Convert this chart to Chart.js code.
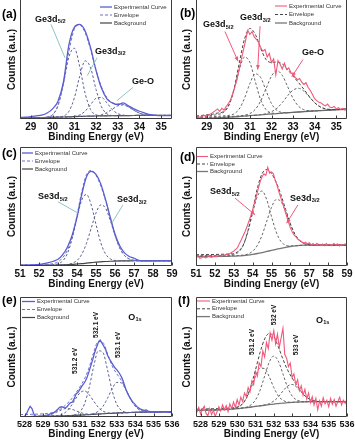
<!DOCTYPE html>
<html>
<head>
<meta charset="utf-8">
<script src="https://cdn.jsdelivr.net/npm/chart.js@4.4.0/dist/chart.umd.min.js"></script>
<style>
  body { margin: 0; background: #fff; width: 355px; height: 446px; overflow: hidden; position: relative; }
  canvas { position: absolute; }
</style>
</head>
<body>
<canvas id="pa" width="182" height="146" style="left:0;top:0"></canvas>
<canvas id="pb" width="179" height="146" style="left:176px;top:0"></canvas>
<canvas id="pc" width="182" height="149" style="left:0;top:146px"></canvas>
<canvas id="pd" width="179" height="149" style="left:176px;top:146px"></canvas>
<canvas id="pe" width="182" height="150" style="left:0;top:296px"></canvas>
<canvas id="pf" width="179" height="150" style="left:176px;top:296px"></canvas>
<script>
// tick labels
const geTicks = [29, 30, 31, 32, 33, 34, 35];
const seTicks = [51, 52, 53, 54, 55, 56, 57, 58, 59];
const oTicks = [528, 529, 530, 531, 532, 533, 534, 535, 536];

// ---- Ge 3d, panels (a) and (b) : fitted curves on a 0.25 eV grid
const geX = [28.5, 28.75, 29, 29.25, 29.5, 29.75, 30, 30.25, 30.5, 30.75, 31, 31.25, 31.5, 31.75, 32, 32.25, 32.5, 32.75, 33, 33.25, 33.5, 33.75, 34, 34.25, 34.5, 34.75, 35, 35.25, 35.5];

const expA = [1.4, 1.5, 2.0, 2.6, 3.2, 5.0, 8.5, 15, 31, 62, 77, 79.5, 74, 60, 41, 26, 17, 13.5, 12, 13.5, 11, 8.5, 6.5, 5, 3.6, 3.0, 2.8, 2.8, 2.8];
const envA = [0.8, 0.9, 1.0, 1.1, 1.2, 1.6, 3.5, 11.4, 30.3, 56.5, 75.4, 79.1, 72.4, 58.3, 41, 27.1, 18.0, 13.7, 12.7, 12.3, 10.1, 7.3, 4.9, 3.6, 3.2, 3, 3, 3, 3];
const bgA = [0.8, 0.9, 1.0, 1.1, 1.2, 1.3, 1.4, 1.55, 1.7, 1.85, 2.0, 2.15, 2.3, 2.4, 2.5, 2.6, 2.7, 2.75, 2.8, 2.85, 2.9, 2.95, 3, 3, 3, 3, 3, 3, 3];
const ge52A = [0.8, 0.9, 1.0, 1.1, 1.2, 1.6, 3.5, 11.3, 29.4, 52.0, 59.5, 44.0, 21.5, 8.0, 3.5, 2.8, 2.7, 2.75, 2.8, 2.85, 2.9, 2.95, 3, 3, 3, 3, 3, 3, 3];
const ge32A = [0.8, 0.9, 1.0, 1.1, 1.2, 1.3, 1.4, 1.65, 2.55, 6.35, 17.6, 35.9, 48.9, 43.0, 24.9, 10.4, 4.4, 2.95, 2.8, 2.85, 2.9, 2.95, 3, 3, 3, 3, 3, 3, 3];
const gexA = [0.8, 0.9, 1.0, 1.1, 1.2, 1.3, 1.4, 1.55, 1.7, 1.85, 2.26, 3.45, 6.6, 12.1, 17.4, 18.1, 13.6, 7.95, 4.5, 3.25, 2.9, 2.95, 3, 3, 3, 3, 3, 3, 3];
const geoA = [0.8, 0.9, 1.0, 1.1, 1.2, 1.3, 1.4, 1.55, 1.7, 1.85, 2.0, 2.15, 2.3, 2.4, 2.5, 3.6, 5.4, 8.25, 11.0, 11.85, 10.1, 7.25, 4.9, 3.6, 3.15, 3, 3, 3, 3];

const geFineX = [28.5, 28.6, 28.7, 28.8, 28.9, 29.0, 29.1, 29.2, 29.3, 29.4, 29.5, 29.6, 29.7, 29.8, 29.9, 30.0, 30.1, 30.2, 30.3, 30.4, 30.5, 30.6, 30.7, 30.8, 30.9, 31.0, 31.1, 31.2, 31.3, 31.4, 31.5, 31.6, 31.7, 31.8, 31.9, 32.0, 32.1, 32.2, 32.3, 32.4, 32.5, 32.6, 32.7, 32.8, 32.9, 33.0, 33.1, 33.2, 33.3, 33.4, 33.5, 33.6, 33.7, 33.8, 33.9, 34.0, 34.1, 34.2, 34.3, 34.4, 34.5, 34.6, 34.7, 34.8, 34.9, 35.0, 35.1, 35.2, 35.3, 35.4, 35.5];
const expB = [1.5, 2.0, 1.2, 2.5, 3.0,
  2.2, 3.5, 4.5, 5.8, 7.0, 8.5, 6.5, 9.0, 7.5, 10.5,
  13.0, 16.0, 21.0, 27.0, 33.0, 42.0, 50.0, 58.0, 66.0, 74.5,
  71.0, 73.5, 69.0, 67.0, 64.5, 60.0, 57.0, 58.5, 52.0, 55.0,
  47.5, 50.5, 37.0, 49.0, 46.0, 42.0, 47.0, 41.5, 43.0, 39.0,
  37.5, 35.0, 33.0, 34.0, 31.0, 29.0, 30.5, 26.5, 24.0, 20.5,
  17.0, 15.5, 14.0, 13.5, 12.0, 11.0, 12.5, 10.0, 9.5, 10.5,
  8.5, 9.5, 8.0, 9.0, 7.5, 8.5];
const envB = [2.5, 3.0, 3.5, 4.0, 5.0, 6.0, 11, 24.5, 46.5, 67.3, 76.1, 71.1, 59.2, 49.9, 47.5, 47.9, 46.2, 41.5, 36, 30.7, 25, 19, 13.7, 10.3, 8.5, 8.0, 8.0, 8.2, 8.4];
const bgB = [0.3, 0.45, 0.6, 0.8, 1.0, 1.25, 1.5, 1.8, 2.1, 2.45, 2.8, 3.15, 3.5, 3.85, 4.2, 4.55, 4.9, 5.25, 5.6, 5.9, 6.2, 6.5, 6.8, 7.05, 7.3, 7.55, 7.8, 8.0, 8.2];
const ge52B = [1.8, 2.1, 2.5, 3.0, 3.8, 5.2, 10.5, 23.4, 41.0, 52.1, 47.4, 31.4, 16.0, 7.8, 5.1, 4.65, 4.9, 5.25, 5.6, 5.9, 6.2, 6.5, 6.8, 7.05, 7.3, 7.55, 7.8, 8.0, 8.2];
const ge32B = [1.2, 1.4, 1.6, 1.9, 2.2, 2.6, 3.0, 4.2, 8.3, 17.5, 29.9, 38.0, 34.8, 23.6, 12.9, 7.25, 5.5, 5.35, 5.6, 5.9, 6.2, 6.5, 6.8, 7.05, 7.3, 7.55, 7.8, 8.0, 8.2];
const gexB = [0.8, 0.95, 1.1, 1.3, 1.5, 1.75, 2.0, 2.3, 2.6, 3.2, 4.6, 8.1, 15.2, 25.7, 36.0, 40.6, 36.7, 27.1, 17.3, 10.8, 7.8, 6.9, 6.8, 7.05, 7.3, 7.55, 7.8, 8.0, 8.2];
const geoB = [0.3, 0.45, 0.6, 0.8, 1.0, 1.25, 1.5, 1.8, 2.1, 2.45, 2.8, 3.15, 3.7, 4.45, 6.1, 9.05, 13.8, 19.6, 24.3, 25.8, 23.4, 18.6, 13.7, 10.3, 8.5, 7.95, 7.8, 8.0, 8.2];

// ---- Se 3d, panels (c) and (d)
const seX = [51, 51.25, 51.5, 51.75, 52, 52.25, 52.5, 52.75, 53, 53.25, 53.5, 53.75, 54, 54.25, 54.5, 54.75, 55, 55.25, 55.5, 55.75, 56, 56.25, 56.5, 56.75, 57, 57.25, 57.5, 57.75, 58, 58.25, 58.5, 58.75, 59];

const expC = [0.6, 0.7, 0.8, 1.0, 1.4, 2.0, 2.8, 4.0, 5.6, 9.5, 16, 26, 41, 60, 75, 79.5, 77, 69, 56, 41, 27, 17, 11, 8, 6.5, 4.8, 4.3, 4.3, 4.3, 4.3, 4.3, 4.3, 4.3];
const envC = [0.9, 0.9, 1.0, 1.0, 1.1, 1.2, 1.4, 2.0, 3.5, 7.0, 13.5, 25.0, 42.5, 62.5, 76.8, 80.3, 76.3, 67.4, 55.1, 40.3, 26.1, 15.1, 8.8, 5.9, 4.8, 4.4, 4.4, 4.4, 4.4, 4.4, 4.4, 4.4, 4.4];
const bgC = [0.5, 0.5, 0.5, 0.5, 0.6, 0.6, 0.7, 0.8, 0.9, 1.0, 1.2, 1.4, 1.7, 2.0, 2.4, 2.8, 3.2, 3.5, 3.8, 4.0, 4.15, 4.25, 4.3, 4.35, 4.4, 4.4, 4.4, 4.4, 4.4, 4.4, 4.4, 4.4, 4.4];
const se52C = [0.5, 0.5, 0.5, 0.5, 0.6, 0.6, 0.7, 1.0, 1.8, 4.3, 10.7, 23.2, 40.4, 55.5, 60.1, 51.2, 34.9, 19.6, 10.2, 6.0, 4.65, 4.25, 4.3, 4.35, 4.4, 4.4, 4.4, 4.4, 4.4, 4.4, 4.4, 4.4, 4.4];
const se32C = [0.5, 0.5, 0.5, 0.5, 0.6, 0.6, 0.7, 0.8, 0.9, 1.0, 1.4, 2.3, 4.6, 9.8, 19.1, 31.9, 44.6, 51.3, 48.7, 38.3, 25.6, 15.1, 8.8, 5.85, 4.8, 4.4, 4.4, 4.4, 4.4, 4.4, 4.4, 4.4, 4.4];

const seFineX = [51.0, 51.1, 51.2, 51.3, 51.4, 51.5, 51.6, 51.7, 51.8, 51.9, 52.0, 52.1, 52.2, 52.3, 52.4, 52.5, 52.6, 52.7, 52.8, 52.9, 53.0, 53.1, 53.2, 53.3, 53.4, 53.5, 53.6, 53.7, 53.8, 53.9, 54.0, 54.1, 54.2, 54.3, 54.4, 54.5, 54.6, 54.7, 54.8, 54.9, 55.0, 55.1, 55.2, 55.3, 55.4, 55.5, 55.6, 55.7, 55.8, 55.9, 56.0, 56.1, 56.2, 56.3, 56.4, 56.5, 56.6, 56.7, 56.8, 56.9, 57.0, 57.1, 57.2, 57.3, 57.4, 57.5, 57.6, 57.7, 57.8, 57.9, 58.0, 58.1, 58.2, 58.3, 58.4, 58.5, 58.6, 58.7, 58.8, 58.9, 59.0];
const expD = [7.5, 8.5, 6.5, 7.0, 8.0, 6.8, 7.5, 8.8, 7.2, 8.0,
  8.5, 7.8, 9.0, 8.2, 9.2, 8.8, 9.8, 10.0, 10.5, 11.5,
  12.5, 14.0, 15.5, 19.0, 22.0, 25.5, 29.0, 33.0, 37.5, 42.0,
  47.0, 53.0, 59.0, 65.0, 71.0, 75.0, 77.5, 76.0, 83.0, 78.0,
  79.0, 77.5, 72.0, 67.5, 62.0, 57.0, 52.5, 47.0, 42.0, 37.0,
  32.0, 28.5, 26.0, 24.5, 22.5, 21.5, 20.5, 19.0, 20.0, 18.5,
  19.5, 17.8, 18.8, 17.5, 19.0, 18.0, 17.2, 18.5, 17.0, 18.8,
  17.5, 18.2, 17.0, 19.0, 17.8, 18.5, 16.8, 18.0, 17.5, 18.6,
  17.8];
const envD = [9.5, 9.5, 9.6, 9.6, 9.7, 9.8, 9.9, 10.0, 10.5, 12.5, 17.5, 29.5, 47.1, 65.3, 77.6, 81.1, 77.7, 70.3, 59.9, 47.5, 35.5, 26.4, 21.2, 18.8, 17.9, 17.6, 17.6, 17.6, 17.6, 17.6, 17.6, 17.6, 17.6];
const bgD = [8.0, 8.0, 8.0, 8.0, 8.0, 8.05, 8.1, 8.2, 8.3, 8.5, 8.8, 9.2, 9.8, 10.5, 11.3, 12.2, 13.1, 14.0, 14.9, 15.7, 16.4, 16.9, 17.3, 17.5, 17.6, 17.6, 17.6, 17.6, 17.6, 17.6, 17.6, 17.6, 17.6];
const se52D = [8.6, 8.6, 8.7, 8.7, 8.8, 8.9, 9.0, 9.2, 9.6, 11.6, 17.3, 28.7, 44.5, 58.5, 63.0, 55.6, 41.5, 28.5, 20.6, 17.5, 16.8, 16.9, 17.3, 17.5, 17.6, 17.6, 17.6, 17.6, 17.6, 17.6, 17.6, 17.6, 17.6];
const se32D = [8.3, 8.3, 8.3, 8.4, 8.4, 8.5, 8.5, 8.6, 8.7, 8.8, 9.2, 10.0, 12.4, 17.3, 25.9, 37.7, 49.3, 55.8, 54.2, 45.7, 35.1, 26.4, 21.2, 18.8, 17.9, 17.6, 17.6, 17.6, 17.6, 17.6, 17.6, 17.6, 17.6];

// ---- O 1s, panels (e) and (f)
const oX = [527.75, 528, 528.25, 528.5, 528.75, 529, 529.25, 529.5, 529.75, 530, 530.25, 530.5, 530.75, 531, 531.25, 531.5, 531.75, 532, 532.25, 532.5, 532.75, 533, 533.25, 533.5, 533.75, 534, 534.25, 534.5, 534.75, 535, 535.25, 535.5, 535.75, 536];
const oFineX = [527.8, 527.9, 528.0, 528.1, 528.2, 528.3, 528.4, 528.5, 528.6, 528.7, 528.8, 528.9, 529.0, 529.1, 529.2, 529.3, 529.4, 529.5, 529.6, 529.7, 529.8, 529.9, 530.0, 530.1, 530.2, 530.3, 530.4, 530.5, 530.6, 530.7, 530.8, 530.9, 531.0, 531.1, 531.2, 531.3, 531.4, 531.5, 531.6, 531.7, 531.8, 531.9, 532.0, 532.1, 532.2, 532.3, 532.4, 532.5, 532.6, 532.7, 532.8, 532.9, 533.0, 533.1, 533.2, 533.3, 533.4, 533.5, 533.6, 533.7, 533.8, 533.9, 534.0, 534.1, 534.2, 534.3, 534.4, 534.5, 534.6, 534.7, 534.8, 534.9, 535.0, 535.1, 535.2, 535.3, 535.4, 535.5, 535.6, 535.7, 535.8, 535.9, 536.0];

const expE = [0.0, 0.3,
  0.5, 2.5, 6.0, 8.8, 7.0, 2.5, 0.5, 0.3, 0.5, 0.8,
  1.0, 1.2, 1.5, 2.0, 2.6, 3.0, 3.8, 5.0, 6.5, 8.0,
  8.5, 8.0, 7.5, 8.5, 10.5, 12.0, 12.5, 15.5, 19.5, 20.5,
  23.0, 25.5, 27.5, 30.0, 33.5, 38.0, 43.0, 48.0, 53.5, 58.0,
  62.0, 64.0, 61.5, 59.0, 56.0, 51.5, 48.5, 46.0, 43.5, 41.0,
  39.5, 37.5, 35.0, 32.0, 27.5, 23.0, 19.5, 16.5, 14.0, 12.0,
  10.5, 8.5, 7.5, 6.5, 6.0, 5.5, 5.8, 5.0, 4.5, 4.2,
  4.0, 3.9, 4.2, 4.0, 4.3, 4.5, 4.2, 4.0, 3.9, 3.8,
  3.8];
const envE = [2.0, 2.1, 2.2, 2.3, 2.4, 2.6, 3.0, 3.6, 5.0, 7.0, 10.4, 14.2, 19.3, 25.1, 31.8, 41.2, 53.8, 63.1, 62.1, 52.7, 42.5, 36.1, 30.5, 22.9, 15.0, 9.0, 5.8, 4.6, 4.2, 4.25, 4.3, 4.35, 4.4, 4.4];
const bgE = [0.3, 0.35, 0.4, 0.45, 0.5, 0.55, 0.6, 0.7, 0.8, 0.9, 1.05, 1.2, 1.4, 1.6, 1.8, 2.0, 2.25, 2.5, 2.7, 2.9, 3.1, 3.3, 3.45, 3.6, 3.75, 3.9, 4.0, 4.1, 4.2, 4.25, 4.3, 4.35, 4.4, 4.4];
const o530E = [0.3, 0.35, 0.4, 0.45, 0.5, 0.75, 1.3, 2.4, 4.1, 5.9, 7.05, 6.7, 5.4, 3.9, 2.8, 2.3, 2.25, 2.5, 2.7, 2.9, 3.1, 3.3, 3.45, 3.6, 3.75, 3.9, 4.0, 4.1, 4.2, 4.25, 4.3, 4.35, 4.4, 4.4];
const o531E = [0.3, 0.35, 0.4, 0.45, 0.5, 0.55, 0.6, 0.7, 1.1, 2.0, 4.35, 8.7, 14.7, 20.1, 21.7, 18.7, 13.2, 8.1, 4.9, 3.6, 3.1, 3.3, 3.45, 3.6, 3.75, 3.9, 4.0, 4.1, 4.2, 4.25, 4.3, 4.35, 4.4, 4.4];
const o532E = [0.3, 0.35, 0.4, 0.45, 0.5, 0.55, 0.6, 0.7, 0.8, 0.9, 1.05, 1.2, 2.0, 4.3, 10.9, 24.2, 42.2, 55.2, 53.8, 39.3, 22.1, 10.6, 5.55, 4.0, 3.75, 3.9, 4.0, 4.1, 4.2, 4.25, 4.3, 4.35, 4.4, 4.4];
const o533E = [0.3, 0.35, 0.4, 0.45, 0.5, 0.55, 0.6, 0.7, 0.8, 0.9, 1.05, 1.2, 1.4, 1.6, 1.8, 2.0, 2.95, 4.8, 8.8, 15.6, 23.5, 28.8, 28.4, 22.5, 15.0, 9.0, 5.8, 4.6, 4.2, 4.25, 4.3, 4.35, 4.4, 4.4];

const expF = [4.0, 8.0,
  2.5, 6.5, 9.0, 3.0, 1.0, 7.0, 2.0, 5.5, 0.5, 4.5,
  8.5, 5.0, 10.0, 6.0, 9.5, 4.5, 11.0, 7.0, 12.5, 8.0,
  14.5, 10.0, 16.5, 13.0, 20.0, 17.0, 24.5, 21.0, 30.0, 27.0,
  38.0, 34.0, 45.0, 42.0, 55.0, 50.0, 62.0, 57.0, 70.0, 64.0,
  72.0, 61.0, 69.0, 58.0, 66.0, 74.0, 52.0, 49.0, 42.0, 45.0,
  33.0, 36.0, 27.0, 31.0, 22.0, 26.0, 18.0, 23.0, 15.0, 20.0,
  12.0, 17.0, 10.0, 15.5, 6.0, 13.5, 9.0, 16.0, 11.0, 14.0,
  8.5, 15.5, 10.5, 14.5, 9.0, 13.0, 16.5, 10.0, 14.0, 11.5,
  15.0];
const envF = [6.5, 6.6, 6.7, 6.8, 6.9, 7.0, 7.2, 7.4, 7.7, 8.3, 10.4, 15.8, 25.7, 39.3, 53.7, 65.0, 69.6, 67.1, 58.4, 48.2, 39.3, 32.5, 26.7, 21.2, 16.9, 14.5, 13.3, 12.8, 12.8, 12.8, 12.8, 12.8, 12.8, 12.8];
const bgF = [5.5, 5.6, 5.7, 5.8, 5.9, 6.0, 6.2, 6.4, 6.7, 7.0, 7.4, 7.8, 8.3, 8.8, 9.3, 9.8, 10.3, 10.8, 11.2, 11.6, 11.9, 12.2, 12.4, 12.6, 12.7, 12.8, 12.8, 12.8, 12.8, 12.8, 12.8, 12.8, 12.8, 12.8];
const o531F = [5.5, 5.6, 5.7, 5.8, 5.9, 6.0, 6.2, 6.4, 6.9, 7.8, 10.2, 15.4, 23.9, 33.9, 40.7, 40.4, 33.5, 24.6, 17.5, 13.9, 12.5, 12.2, 12.4, 12.6, 12.7, 12.8, 12.8, 12.8, 12.8, 12.8, 12.8, 12.8, 12.8, 12.8];
const o532F = [5.5, 5.6, 5.7, 5.8, 5.9, 6.0, 6.2, 6.4, 6.7, 7.0, 7.4, 8.2, 10.1, 14.2, 22.3, 34.1, 45.6, 50.8, 46.5, 35.9, 24.9, 17.6, 14.2, 13.0, 12.7, 12.8, 12.8, 12.8, 12.8, 12.8, 12.8, 12.8, 12.8, 12.8];
const o533F = [5.5, 5.6, 5.7, 5.8, 5.9, 6.0, 6.2, 6.4, 6.7, 7.0, 7.4, 7.8, 8.3, 8.8, 9.3, 10.0, 11.1, 13.3, 16.8, 21.6, 25.7, 27.1, 24.9, 20.8, 16.9, 14.5, 13.3, 12.8, 12.8, 12.8, 12.8, 12.8, 12.8, 12.8];

const FONT = '"Liberation Sans", Arial, sans-serif';

// blue panels (a, c, e) and red panels (b, d, f)
const blueSet = {
  exp: { color: '#5a5dd2', width: 1.3, dash: [] },
  env: { color: '#6d71c8', width: 1, dash: [3, 2] },
  peak: { color: '#5a6090', width: 1, dash: [2.5, 2] },
  bg: { color: '#444', width: 1.2, dash: [] }
};
const redSet = {
  exp: { color: '#f2587a', width: 1.1, dash: [] },
  env: { color: '#444', width: 1, dash: [3, 2] },
  peak: { color: '#666', width: 1, dash: [2.5, 2] },
  bg: { color: '#777', width: 1.3, dash: [] }
};

function series(xs, ys, st, smooth) {
  return {
    data: xs.map((x, i) => ({ x: x, y: ys[i] })),
    borderColor: st.color,
    borderWidth: st.width,
    borderDash: st.dash,
    pointRadius: 0,
    fill: false,
    tension: smooth ? 0.4 : 0,
    cubicInterpolationMode: smooth ? 'monotone' : 'default'
  };
}

function subText(ctx, x, y, main, sub, size) {
  ctx.font = 'bold ' + size + 'px ' + FONT;
  ctx.textAlign = 'left';
  ctx.textBaseline = 'middle';
  ctx.fillText(main, x, y);
  if (sub) {
    const w = ctx.measureText(main).width;
    ctx.font = 'bold ' + (size * 0.62).toFixed(1) + 'px ' + FONT;
    ctx.fillText(sub, x + w + 0.3, y + size * 0.3);
  }
}

// frame, inner ticks, legend, panel letter and peak labels
const decorPlugin = {
  id: 'decor',
  afterDraw(chart, args, o) {
    const ctx = chart.ctx, a = chart.chartArea;
    const xs = chart.scales.x, ys = chart.scales.y;
    ctx.save();
    ctx.strokeStyle = '#3c3c3c';
    ctx.lineWidth = 1;
    ctx.setLineDash([]);
    ctx.beginPath();
    const l = Math.round(a.left) + 0.5, r = Math.round(a.right) - 0.5;
    const t = Math.round(a.top) + 0.5, b = Math.round(a.bottom) - 0.5;
    ctx.moveTo(l, t - (o.openTop ? 1 : 0)); ctx.lineTo(l, b); ctx.lineTo(r, b); ctx.lineTo(r, t - (o.openTop ? 1 : 0));
    if (!o.openTop) ctx.lineTo(l, t);
    ctx.stroke();
    xs.ticks.forEach(tk => {
      const px = Math.round(xs.getPixelForValue(tk.value)) + 0.5;
      ctx.beginPath(); ctx.moveTo(px, b); ctx.lineTo(px, b - 3); ctx.stroke();
    });

    // legend
    const lg = o.legend;
    lg.items.forEach((it, i) => {
      const y = a.top + lg.y + i * lg.dy;
      const x0 = a.left + lg.x;
      ctx.strokeStyle = it.st.color;
      ctx.lineWidth = it.st.width;
      ctx.setLineDash(it.st.dash);
      ctx.beginPath(); ctx.moveTo(x0, y); ctx.lineTo(x0 + lg.len, y); ctx.stroke();
      ctx.setLineDash([]);
      ctx.fillStyle = '#333';
      ctx.font = '6px ' + FONT;
      ctx.textAlign = 'left';
      ctx.textBaseline = 'middle';
      ctx.fillText(it.text, x0 + lg.len + 2, y);
    });

    // panel letter
    ctx.fillStyle = '#000';
    ctx.font = 'bold 12px ' + FONT;
    ctx.textAlign = 'left';
    ctx.textBaseline = 'middle';
    ctx.fillText(o.letter, o.lx, o.ly);

    // pointer lines
    (o.arrows || []).forEach(p => {
      const x1 = xs.getPixelForValue(p[0]), y1 = ys.getPixelForValue(p[1]);
      const x2 = xs.getPixelForValue(p[2]), y2 = ys.getPixelForValue(p[3]);
      ctx.strokeStyle = o.arrowColor;
      ctx.fillStyle = o.arrowColor;
      ctx.lineWidth = 1;
      ctx.beginPath(); ctx.moveTo(x1, y1); ctx.lineTo(x2, y2); ctx.stroke();
      if (o.heads) {
        const ang = Math.atan2(y2 - y1, x2 - x1);
        ctx.beginPath();
        ctx.moveTo(x2, y2);
        ctx.lineTo(x2 - 4.5 * Math.cos(ang) + 2 * Math.sin(ang), y2 - 4.5 * Math.sin(ang) - 2 * Math.cos(ang));
        ctx.lineTo(x2 - 4.5 * Math.cos(ang) - 2 * Math.sin(ang), y2 - 4.5 * Math.sin(ang) + 2 * Math.cos(ang));
        ctx.closePath();
        ctx.fill();
      }
    });

    // peak labels
    ctx.fillStyle = '#111';
    (o.notes || []).forEach(n => {
      const x = xs.getPixelForValue(n.x), y = ys.getPixelForValue(n.y);
      if (n.rot) {
        ctx.save();
        ctx.translate(x, y);
        ctx.rotate(-Math.PI / 2);
        ctx.font = 'bold 6.5px ' + FONT;
        ctx.textAlign = 'center';
        ctx.textBaseline = 'middle';
        ctx.fillText(n.text, 0, 0);
        ctx.restore();
      } else {
        subText(ctx, x, y, n.text, n.sub, n.size || 9);
      }
    });
    ctx.restore();
  }
};

function legendOf(set, x, y, dy, len) {
  return {
    x: x, y: y, dy: dy, len: len,
    items: [
      { text: 'Experimental Curve', st: set.exp },
      { text: 'Envelope', st: set.env },
      { text: 'Background', st: set.bg }
    ]
  };
}

function panel(id, p) {
  const el = document.getElementById(id);
  return new Chart(el, {
    type: 'line',
    data: { datasets: p.datasets },
    options: {
      responsive: false,
      animation: false,
      devicePixelRatio: 1,
      layout: { padding: { left: 0, right: p.padRight, top: p.padTop, bottom: 0 } },
      plugins: { legend: { display: false }, tooltip: { enabled: false }, decor: p.decor },
      scales: {
        x: {
          type: 'linear',
          min: p.xMin,
          max: p.xMax,
          afterBuildTicks: s => { s.ticks = p.ticks.map(v => ({ value: v })); },
          afterFit: s => { s.height = p.xHeight; s.paddingLeft = 0; s.paddingRight = 0; },
          grid: { display: false, drawTicks: false },
          border: { display: false },
          ticks: { autoSkip: false, maxRotation: 0, padding: 2, color: '#111', font: { family: FONT, size: p.tickSize, weight: 'bold' } },
          title: { display: true, text: 'Binding Energy (eV)', color: '#111', font: { family: FONT, size: 10, weight: 'bold' }, padding: { top: 0, bottom: p.titlePad } }
        },
        y: {
          min: 0,
          max: 100,
          afterFit: s => { s.width = 20; s.paddingTop = 0; s.paddingBottom = 0; },
          grid: { display: false, drawTicks: false },
          border: { display: false },
          ticks: { display: false },
          title: { display: true, text: 'Counts (a.u.)', color: '#111', font: { family: FONT, size: 10, weight: 'bold' }, padding: { top: p.yPad, bottom: 0 } }
        }
      }
    },
    plugins: [decorPlugin]
  });
}

function fitSets(x, exp, env, peaks, bg, set, fineX) {
  const out = [series(fineX || x, exp, set.exp, !fineX), series(x, env, set.env, true)];
  peaks.forEach(pk => out.push(series(x, pk, set.peak, true)));
  out.push(series(x, bg, set.bg, true));
  return out;
}

panel('pa', {
  datasets: fitSets(geX, expA, envA, [ge52A, ge32A, gexA, geoA], bgA, blueSet),
  xMin: 28.5, xMax: 35.5, ticks: geTicks, tickSize: 10, padRight: 10, padTop: 0, xHeight: 27, titlePad: 3, yPad: 6,
  decor: {
    openTop: true, letter: '(a)', lx: 2, ly: 15,
    legend: legendOf(blueSet, 80, 7, 8, 12),
    arrowColor: '#8cc4c6', heads: false,
    arrows: [[29.93, 79.5, 30.57, 51.5], [32.05, 51.5, 31.6, 36.5], [33.7, 26.5, 32.97, 15.5]],
    notes: [
      { text: 'Ge3d', sub: '5/2', x: 29.19, y: 84 },
      { text: 'Ge3d', sub: '3/2', x: 31.95, y: 57 },
      { text: 'Ge-O', x: 33.66, y: 31.5 }
    ]
  }
});

panel('pb', {
  datasets: fitSets(geX, expB, envB, [ge52B, ge32B, gexB, geoB], bgB, redSet, geFineX),
  xMin: 28.5, xMax: 35.5, ticks: geTicks, tickSize: 10, padRight: 8, padTop: 0, xHeight: 27, titlePad: 3, yPad: 5,
  decor: {
    openTop: true, letter: '(b)', lx: 4, ly: 14,
    legend: legendOf(redSet, 79, 6, 8.5, 12),
    arrowColor: '#f0587a', heads: true,
    arrows: [[29.84, 73.5, 30.45, 48.5], [31.47, 78, 31.36, 41.5], [33.46, 50, 32.94, 35.5]],
    notes: [
      { text: 'Ge3d', sub: '5/2', x: 28.82, y: 79.5 },
      { text: 'Ge3d', sub: '3/2', x: 30.54, y: 85.5 },
      { text: 'Ge-O', x: 33.41, y: 56 }
    ]
  }
});

panel('pc', {
  datasets: fitSets(seX, expC, envC, [se52C, se32C], bgC, blueSet),
  xMin: 51, xMax: 59, ticks: seTicks, tickSize: 10, padRight: 10, padTop: 1, xHeight: 29, titlePad: 5, yPad: 6,
  decor: {
    letter: '(c)', lx: 2, ly: 8,
    legend: legendOf(blueSet, 2, 6, 8, 11),
    arrowColor: '#8cc4c6', heads: false,
    arrows: [[53.0, 54, 54.07, 44.3], [56.42, 51.3, 55.83, 36]],
    notes: [
      { text: 'Se3d', sub: '5/2', x: 51.95, y: 58 },
      { text: 'Se3d', sub: '3/2', x: 56.1, y: 55.5 }
    ]
  }
});

panel('pd', {
  datasets: fitSets(seX, expD, envD, [se52D, se32D], bgD, redSet, seFineX),
  xMin: 51, xMax: 59, ticks: seTicks, tickSize: 10, padRight: 8, padTop: 1, xHeight: 29, titlePad: 5, yPad: 5,
  decor: {
    letter: '(d)', lx: 4, ly: 12,
    legend: legendOf(redSet, 1, 9.5, 7.5, 11),
    arrowColor: '#f0587a', heads: true,
    arrows: [[53.07, 57, 54.13, 43], [56.4, 51.3, 55.8, 36]],
    notes: [
      { text: 'Se3d', sub: '5/2', x: 51.74, y: 62.4 },
      { text: 'Se3d', sub: '3/2', x: 55.98, y: 57 }
    ]
  }
});

panel('pe', {
  datasets: fitSets(oX, expE, envE, [o530E, o531E, o532E, o533E], bgE, blueSet, oFineX),
  xMin: 527.75, xMax: 536, ticks: oTicks, tickSize: 9, padRight: 10, padTop: 1, xHeight: 29, titlePad: 6, yPad: 6,
  decor: {
    letter: '(e)', lx: 2, ly: 5,
    legend: legendOf(blueSet, 2, 4.5, 8, 13),
    arrows: [],
    notes: [
      { text: '531.2 eV', rot: true, x: 530.74, y: 46.7 },
      { text: '532.1 eV', rot: true, x: 531.91, y: 76.7 },
      { text: '533.1 eV', rot: true, x: 533.09, y: 60 },
      { text: 'O', sub: '1s', x: 533.62, y: 83.3 }
    ]
  }
});

panel('pf', {
  datasets: fitSets(oX, expF, envF, [o531F, o532F, o533F], bgF, redSet, oFineX),
  xMin: 527.75, xMax: 536, ticks: oTicks, tickSize: 9, padRight: 8, padTop: 1, xHeight: 29, titlePad: 6, yPad: 5,
  decor: {
    letter: '(f)', lx: 2, ly: 5,
    legend: legendOf(redSet, 1, 4, 7.8, 13),
    arrows: [],
    notes: [
      { text: '531.2 eV', rot: true, x: 530.82, y: 62.5 },
      { text: '532 eV', rot: true, x: 532.0, y: 85 },
      { text: '533 eV', rot: true, x: 533.24, y: 60 },
      { text: 'O', sub: '1s', x: 534.3, y: 80.8 }
    ]
  }
});
</script>
</body>
</html>
